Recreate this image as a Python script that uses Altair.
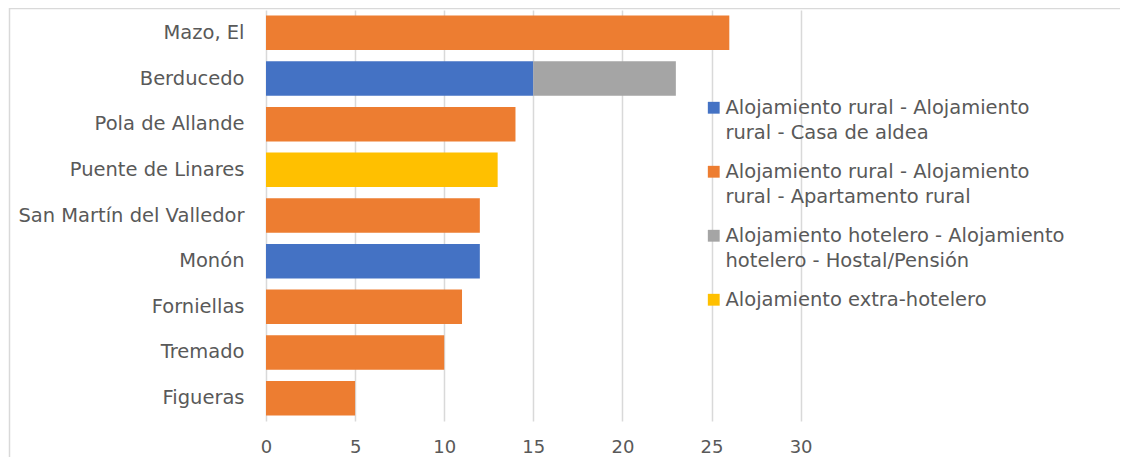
import altair as alt
import pandas as pd

towns = ["Mazo, El", "Berducedo", "Pola de Allande", "Puente de Linares",
         "San Martín del Valledor", "Monón", "Forniellas", "Tremado", "Figueras"]
series = [
    "Alojamiento rural - Alojamiento\nrural - Casa de aldea",
    "Alojamiento rural - Alojamiento\nrural - Apartamento rural",
    "Alojamiento hotelero - Alojamiento\nhotelero - Hostal/Pensión",
    "Alojamiento extra-hotelero",
]
colors = ["#4472C4", "#ED7D31", "#A5A5A5", "#FFC000"]
casa_aldea = [0, 15, 0, 0, 0, 12, 0, 0, 0]
apartamento = [26, 0, 14, 0, 12, 0, 11, 10, 5]
hostal = [0, 8, 0, 0, 0, 0, 0, 0, 0]
extra = [0, 0, 0, 13, 0, 0, 0, 0, 0]
x_ticks = [0, 5, 10, 15, 20, 25, 30]

rows = []
for si, vals in enumerate([casa_aldea, apartamento, hostal, extra]):
    for t, v in zip(towns, vals):
        if v > 0:
            rows.append({"town": t, "serie": series[si], "order": si, "value": v})
df = pd.DataFrame(rows)

FONT = "DejaVu Sans"
TXT = "#595959"
FS = 19.5

bars = alt.Chart(df).mark_bar().encode(
    y=alt.Y("town:N", sort=towns,
            scale=alt.Scale(paddingInner=0.245, paddingOuter=0.1225),
            axis=alt.Axis(title=None, ticks=False, domain=False, labelPadding=22,
                          labelFontSize=FS, labelFont=FONT, labelColor=TXT, labelLimit=300)),
    x=alt.X("value:Q", stack="zero",
            scale=alt.Scale(domain=[0, 30], nice=False),
            axis=alt.Axis(title=None, values=x_ticks, ticks=False, domain=False,
                          grid=True, gridColor="#D9D9D9", gridWidth=1.5,
                          labelFlush=False,
                          labelPadding=18, labelFontSize=18, labelFont=FONT,
                          labelColor=TXT)),
    color=alt.Color("serie:N",
                    scale=alt.Scale(domain=series, range=colors),
                    legend=alt.Legend(title=None, orient="none", legendX=438, legendY=88,
                                      symbolType="square", symbolSize=140,
                                      symbolStrokeWidth=0, labelFont=FONT,
                                      labelFontSize=FS, labelColor=TXT,
                                      labelLimit=500, labelOffset=2,
                                      labelExpr="split(datum.label, '\\n')",
                                      rowPadding=18, padding=0)),
    order=alt.Order("order:Q"),
)

frame_df = pd.DataFrame({"f": [0]})
frame = alt.Chart(frame_df).mark_rect(fill=None, stroke="#D9D9D9", strokeWidth=1.5).encode(
    x=alt.value(-256.5), x2=alt.value(900), y=alt.value(-1.5), y2=alt.value(600)
)

chart = alt.layer(
    frame, bars,
    config=alt.Config(view=alt.ViewConfig(stroke=None),
                      style={"guide-label": {"lineHeight": 25}}),
).properties(
    width=534.6, height=411,
    autosize=alt.AutoSizeParams(type="none"),
    padding={"left": 258, "top": 2, "right": 319, "bottom": 36},
)

chart.save("out.html", embed_options={"renderer": "svg", "actions": False})
